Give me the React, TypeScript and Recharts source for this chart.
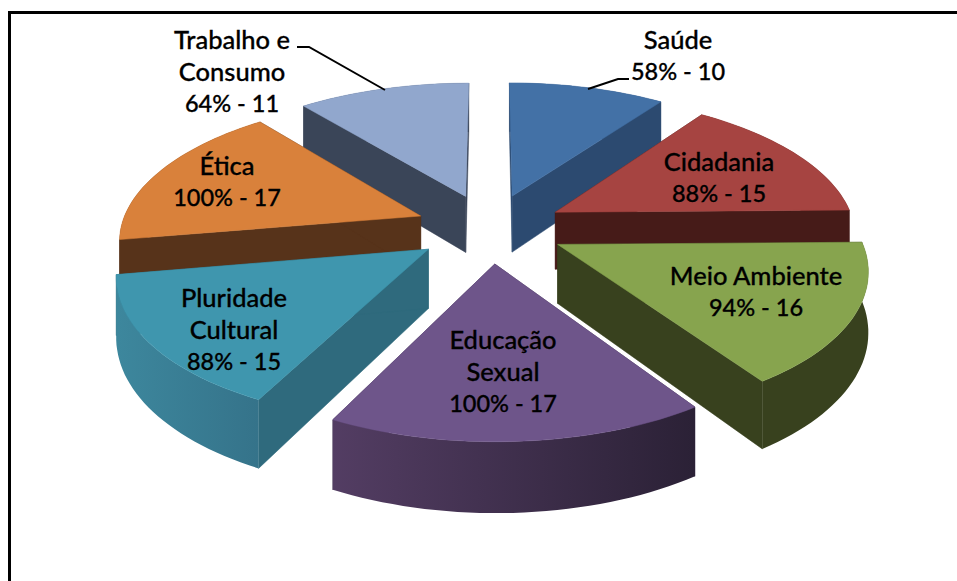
import React from 'react';
import { PieChart, Pie } from 'recharts';

const categories = ['Saúde', 'Cidadania', 'Meio Ambiente', 'Educação Sexual', 'Pluridade Cultural', 'Ética', 'Trabalho e Consumo'];
const counts = [10, 15, 16, 17, 15, 17, 11];
const percents = ['58%', '88%', '94%', '100%', '88%', '100%', '64%'];
const labelLines = [
  ['Saúde'],
  ['Cidadania'],
  ['Meio Ambiente'],
  ['Educação', 'Sexual'],
  ['Pluridade', 'Cultural'],
  ['Ética'],
  ['Trabalho e', 'Consumo'],
];
const topColors = ['#4371a6', '#a64441', '#87a44e', '#6e558a', '#3f96ae', '#d9813b', '#91a7cd'];
const radialColors = ['#2c4a70', '#461b18', '#38411e', '#3a2c4c', '#2f6a7d', '#57331a', '#3a4558'];
const arcRightColors = ['#2c4a70', '#461b18', '#38411e', '#2b2136', '#35738a', '#57331a', '#3a4558'];
const arcLeftColors = ['#2c4a70', '#461b18', '#38411e', '#533d63', '#3d879d', '#57331a', '#3a4558'];
const drawOrder = [0, 6, 1, 5, 2, 4, 3];

const labelX = [678, 719, 756, 503, 234, 227, 232];
const labelY = [39, 161, 275, 339, 297, 165, 39];
const LINE_GAP = 32;

const tableData = categories.map((name, i) => ({ name, value: counts[i] }));

const CX = 490;
const CY = 228;
const RADIUS = 300;
const SQUASH = 139 / 300;
const PERSP = 0.15;
const EXPLODE = 0.25;
const DEPTH = 58;

type P = [number, number];

function project(cx: number, cy: number, r: number, u: number, v: number, z: number): P {
  const w = 1 / (1 - PERSP * v);
  return [cx + r * u * w, cy + r * SQUASH * v * w + z * w];
}

function toPath(pts: P[]) {
  return 'M' + pts.map((p) => p[0].toFixed(1) + ',' + p[1].toFixed(1)).join('L') + 'Z';
}

function Slice(props: any, only: number) {
  const { index, cx, cy, outerRadius, startAngle, endAngle } = props;
  if (index !== only) return <g />;
  const t0 = ((90 - startAngle) * Math.PI) / 180;
  const t1 = ((90 - endAngle) * Math.PI) / 180;
  const mid = (t0 + t1) / 2;
  const ox = EXPLODE * Math.sin(mid);
  const oy = -EXPLODE * Math.cos(mid);
  const pt = (t: number, z: number) =>
    project(cx, cy, outerRadius, ox + Math.sin(t), oy - Math.cos(t), z);
  const tip = (z: number) => project(cx, cy, outerRadius, ox, oy, z);
  const steps = Math.max(8, Math.round(Math.abs(t1 - t0) / 0.03));
  const angles = Array.from({ length: steps + 1 }, (_, k) => t0 + ((t1 - t0) * k) / steps);
  const top: P[] = [tip(0), ...angles.map((t) => pt(t, 0))];
  const radialA: P[] = [tip(0), pt(t0, 0), pt(t0, DEPTH), tip(DEPTH)];
  const radialB: P[] = [tip(0), pt(t1, 0), pt(t1, DEPTH), tip(DEPTH)];
  const arc: P[] = [
    ...angles.map((t) => pt(t, 0)),
    ...angles.slice().reverse().map((t) => pt(t, DEPTH)),
  ];
  const xs = arc.map((p) => p[0]);
  const gid = 'arc-grad-' + index;
  return (
    <g>
      <defs>
        <linearGradient id={gid} gradientUnits="userSpaceOnUse" x1={Math.min(...xs)} y1={0} x2={Math.max(...xs)} y2={0}>
          <stop offset="0%" stopColor={arcLeftColors[index]} />
          <stop offset="100%" stopColor={arcRightColors[index]} />
        </linearGradient>
      </defs>
      <path d={toPath(radialA)} fill={radialColors[index]} stroke={radialColors[index]} strokeWidth={0.5} />
      <path d={toPath(radialB)} fill={radialColors[index]} stroke={radialColors[index]} strokeWidth={0.5} />
      <path d={toPath(arc)} fill={'url(#' + gid + ')'} />
      <path d={toPath(top)} fill={topColors[index]} stroke={topColors[index]} strokeWidth={0.5} />
    </g>
  );
}

const textStyle = {
  fontFamily: 'Lato, sans-serif',
  fontWeight: 500,
  fill: '#000',
  stroke: '#000',
  strokeWidth: 0.3,
} as const;

function renderLabel(props: any) {
  const i = props.index;
  const names = labelLines[i];
  const lines = [...names, percents[i] + ' - ' + counts[i]];
  return (
    <g key={i}>
      {i === 6 && <polyline points="297,47 309,47 385,90" fill="none" stroke="#000" strokeWidth={2} />}
      {i === 0 && <polyline points="588,89 618,79 629,79" fill="none" stroke="#000" strokeWidth={2} />}
      {lines.map((t, k) => (
        <text
          key={k}
          x={labelX[i]}
          y={labelY[i] + k * LINE_GAP}
          textAnchor="middle"
          dominantBaseline="central"
          fontSize={k < names.length ? 25.5 : 23.5}
          {...textStyle}
        >
          {t}
        </text>
      ))}
    </g>
  );
}

export default function App() {
  return (
    <div style={{ position: 'absolute', left: 0, top: 0, width: 957, height: 581, background: '#fff', overflow: 'hidden' }}>
      <div style={{ position: 'absolute', left: 8, top: 11, width: 949, height: 570, borderTop: '3px solid #000', borderLeft: '3px solid #000', boxSizing: 'border-box' }} />
      <div style={{ position: 'absolute', left: 0, top: 0 }}>
        <PieChart width={957} height={581} margin={{ top: 0, right: 0, bottom: 0, left: 0 }}>
          {drawOrder.map((only) => (
            <Pie
              key={only}
              data={tableData}
              dataKey="value"
              nameKey="name"
              cx={CX}
              cy={CY}
              innerRadius={0}
              outerRadius={RADIUS}
              startAngle={90}
              endAngle={-270}
              stroke="none"
              isAnimationActive={false}
              shape={(p: any) => Slice(p, only)}
            />
          ))}
          <Pie
            data={tableData}
            dataKey="value"
            nameKey="name"
            cx={CX}
            cy={CY}
            innerRadius={0}
            outerRadius={RADIUS}
            startAngle={90}
            endAngle={-270}
            isAnimationActive={false}
            shape={() => <g />}
            label={renderLabel}
            labelLine={false}
          />
        </PieChart>
      </div>
    </div>
  );
}
